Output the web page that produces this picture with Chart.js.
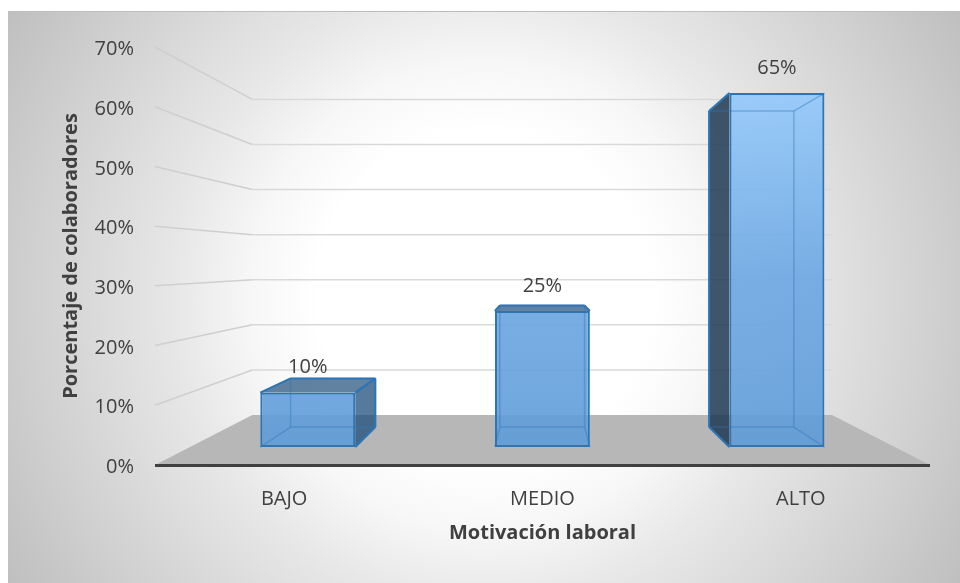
<!DOCTYPE html>
<html lang="es">
<head>
<meta charset="utf-8">
<title>Motivación laboral</title>
<style>
  html, body { margin: 0; padding: 0; background: #ffffff; }
  canvas { display: block; }
</style>
<script src="https://cdn.jsdelivr.net/npm/chart.js@4/dist/chart.umd.min.js"></script>
</head>
<body>
<canvas id="grafico" width="960" height="583"></canvas>
<script>
const categorias = ['BAJO', 'MEDIO', 'ALTO'];
const porcentajes = [10, 25, 65];
const etiquetas = ['10%', '25%', '65%'];
const tituloX = 'Motivación laboral';
const tituloY = 'Porcentaje de colaboradores';

const FUENTE = '"Open Sans", sans-serif';
const TEXTO = '#404040';
const BORDE = '#2e75b6';

// Perspective: every depth plane is a scaling of the axis plane towards the vanishing point.
const FUGA = { x: 541, y: 261 };
const PARED = { x: 0.748, y: 0.755 };
const CARA_FRONTAL = { x: 0.908, y: 0.912 };
const CARA_TRASERA = { x: 0.81, y: 0.814 };

const proyectar = (x, y, plano) => [
  FUGA.x + plano.x * (x - FUGA.x),
  FUGA.y + plano.y * (y - FUGA.y)
];

function poligono(ctx, puntos, relleno, trazo, grosor) {
  ctx.beginPath();
  puntos.forEach((p, i) => (i ? ctx.lineTo(p[0], p[1]) : ctx.moveTo(p[0], p[1])));
  ctx.closePath();
  if (relleno) { ctx.fillStyle = relleno; ctx.fill(); }
  if (trazo) { ctx.strokeStyle = trazo; ctx.lineWidth = grosor; ctx.lineJoin = 'round'; ctx.stroke(); }
}

// Panel background with a soft radial fade.
const fondoPanel = {
  id: 'fondoPanel',
  beforeDraw(chart) {
    const { ctx } = chart;
    const x0 = 8, y0 = 11, w = 952, h = 572;
    const cx = x0 + w / 2, cy = y0 + h / 2;
    const g = ctx.createRadialGradient(cx, cy, 0, cx, cy, Math.hypot(w / 2, h / 2));
    g.addColorStop(0, '#ffffff');
    g.addColorStop(0.3, '#ffffff');
    g.addColorStop(0.42, '#f7f7f7');
    g.addColorStop(0.55, '#e8e8e8');
    g.addColorStop(1, '#bfbfbf');
    ctx.save();
    ctx.fillStyle = g;
    ctx.fillRect(x0, y0, w, h);
    ctx.fillStyle = '#bdbdbd';
    ctx.fillRect(x0, y0, w, 1);
    ctx.restore();
  }
};

// Floor, side wall and back wall grid, built from the value scale's ticks.
const escena3d = {
  id: 'escena3d',
  beforeDatasetsDraw(chart) {
    const { ctx, chartArea: a, scales: { y } } = chart;
    ctx.save();
    ctx.lineWidth = 1.5;
    y.ticks.forEach(t => {
      if (t.value === 0) return;
      const py = y.getPixelForValue(t.value);
      const [bx1, by] = proyectar(a.left, py, PARED);
      const [bx2] = proyectar(a.right, py, PARED);
      ctx.beginPath();
      ctx.moveTo(a.left, py);
      ctx.lineTo(bx1, by);
      ctx.strokeStyle = '#cfcfcf';
      ctx.stroke();
      ctx.beginPath();
      ctx.moveTo(bx1, by);
      ctx.lineTo(bx2, by);
      ctx.strokeStyle = '#d9d9d9';
      ctx.stroke();
    });
    const base = y.getPixelForValue(0);
    poligono(ctx, [
      [a.left, base], [a.right, base],
      proyectar(a.right, base, PARED), proyectar(a.left, base, PARED)
    ], '#b7b7b7');
    ctx.restore();
  },
  // Outer side and top faces go under the library's bars; the front face is the bar itself.
  beforeDatasetDraw(chart, args) {
    const { ctx } = chart;
    ctx.save();
    chart.getDatasetMeta(args.index).data.forEach(bar => {
      const c = caja(bar);
      if (c.Tl[0] < c.tl[0]) poligono(ctx, [c.tl, c.bl, c.Bl, c.Tl], 'rgba(31,56,84,0.85)');
      if (c.Tr[0] > c.tr[0]) poligono(ctx, [c.tr, c.br, c.Br, c.Tr], 'rgba(30,78,121,0.75)');
      if (c.Tl[1] < c.tl[1]) poligono(ctx, [c.tl, c.tr, c.Tr, c.Tl], 'rgba(30,78,121,0.7)');
    });
    // Bars are laid out in the axis plane; shift them onto the front plane of the boxes.
    ctx.translate(FUGA.x, FUGA.y);
    ctx.scale(CARA_FRONTAL.x, CARA_FRONTAL.y);
    ctx.translate(-FUGA.x, -FUGA.y);
  },
  afterDatasetDraw(chart, args) {
    const { ctx } = chart;
    ctx.restore();
    ctx.save();
    chart.getDatasetMeta(args.index).data.forEach((bar, i) => {
      const c = caja(bar);
      // Rear rectangle and receding edges, seen through the front face.
      poligono(ctx, [c.Tl, c.Tr, c.Br, c.Bl], null, 'rgba(46,117,182,0.4)', 1.5);
      [[c.tl, c.Tl], [c.tr, c.Tr], [c.bl, c.Bl], [c.br, c.Br]].forEach(([p, q]) => {
        ctx.beginPath();
        ctx.moveTo(p[0], p[1]);
        ctx.lineTo(q[0], q[1]);
        ctx.stroke();
      });
      // Outer silhouette edges of the box.
      const tramo = (p, q) => {
        ctx.beginPath();
        ctx.moveTo(p[0], p[1]);
        ctx.lineTo(q[0], q[1]);
        ctx.strokeStyle = BORDE;
        ctx.lineWidth = 2;
        ctx.stroke();
      };
      if (c.Tl[0] < c.tl[0]) { tramo(c.tl, c.Tl); tramo(c.Tl, c.Bl); tramo(c.Bl, c.bl); }
      if (c.Tr[0] > c.tr[0]) { tramo(c.tr, c.Tr); tramo(c.Tr, c.Br); tramo(c.Br, c.br); }
      if (c.Tl[1] < c.tl[1]) { tramo(c.tl, c.Tl); tramo(c.Tl, c.Tr); tramo(c.Tr, c.tr); }
      // Value label above the front face.
      ctx.fillStyle = TEXTO;
      ctx.font = '20px ' + FUENTE;
      ctx.textAlign = 'center';
      ctx.textBaseline = 'middle';
      ctx.fillText(etiquetas[i], (c.tl[0] + c.tr[0]) / 2, c.tl[1] - 25);
    });
    ctx.restore();
  },
  // The front baseline sits above the floor.
  afterDatasetsDraw(chart) {
    const { ctx, chartArea: a, scales: { y } } = chart;
    const base = y.getPixelForValue(0);
    ctx.save();
    ctx.beginPath();
    ctx.moveTo(a.left, base + 0.5);
    ctx.lineTo(a.right, base + 0.5);
    ctx.strokeStyle = '#404040';
    ctx.lineWidth = 3;
    ctx.stroke();
    ctx.restore();
  }
};

// Corners of a bar's box: lower case on the front plane, capitalised on the rear plane.
function caja(bar) {
  const { x, y, base, width } = bar.getProps(['x', 'y', 'base', 'width'], true);
  const l = x - width / 2, r = x + width / 2;
  return {
    tl: proyectar(l, y, CARA_FRONTAL), tr: proyectar(r, y, CARA_FRONTAL),
    bl: proyectar(l, base, CARA_FRONTAL), br: proyectar(r, base, CARA_FRONTAL),
    Tl: proyectar(l, y, CARA_TRASERA), Tr: proyectar(r, y, CARA_TRASERA),
    Bl: proyectar(l, base, CARA_TRASERA), Br: proyectar(r, base, CARA_TRASERA)
  };
}

new Chart(document.getElementById('grafico'), {
  type: 'bar',
  data: {
    labels: categorias,
    datasets: [{
      label: tituloY,
      data: porcentajes,
      barPercentage: 0.405,
      categoryPercentage: 1,
      borderColor: BORDE,
      borderWidth: 2.4,
      borderSkipped: false,
      backgroundColor(ctx) {
        const { chart } = ctx;
        const a = chart.chartArea;
        if (!a) return '#70a7dd';
        const g = chart.ctx.createLinearGradient(0, a.top, 0, a.bottom);
        g.addColorStop(0, 'rgba(152,205,255,0.9)');
        g.addColorStop(0.55, 'rgba(108,167,227,0.9)');
        g.addColorStop(1, 'rgba(94,156,216,0.9)');
        return g;
      }
    }]
  },
  plugins: [fondoPanel, escena3d],
  options: {
    responsive: false,
    animation: false,
    layout: { padding: { top: 47, right: 30, left: 0, bottom: 34 } },
    plugins: { legend: { display: false }, tooltip: { enabled: false } },
    scales: {
      x: {
        grid: { display: false },
        border: { display: false },
        ticks: { color: TEXTO, font: { family: FUENTE, size: 20 }, padding: 14, maxRotation: 0 },
        title: {
          display: true,
          text: tituloX,
          color: TEXTO,
          font: { family: FUENTE, size: 20, weight: 'bold' },
          padding: { top: 8, bottom: 4 }
        },
        afterFit(s) { s.height = 84; }
      },
      y: {
        min: 0,
        max: 70,
        grid: { display: false, drawTicks: false },
        border: { display: false },
        ticks: {
          stepSize: 10,
          color: TEXTO,
          font: { family: FUENTE, size: 20 },
          padding: 21,
          labelOffset: 2.5,
          callback: v => v + '%'
        },
        title: {
          display: true,
          text: tituloY,
          color: TEXTO,
          font: { family: FUENTE, size: 20, weight: 'bold' },
          padding: { top: 59, bottom: 0 }
        },
        afterFit(s) { s.width = 155; }
      }
    }
  }
});
</script>
</body>
</html>
